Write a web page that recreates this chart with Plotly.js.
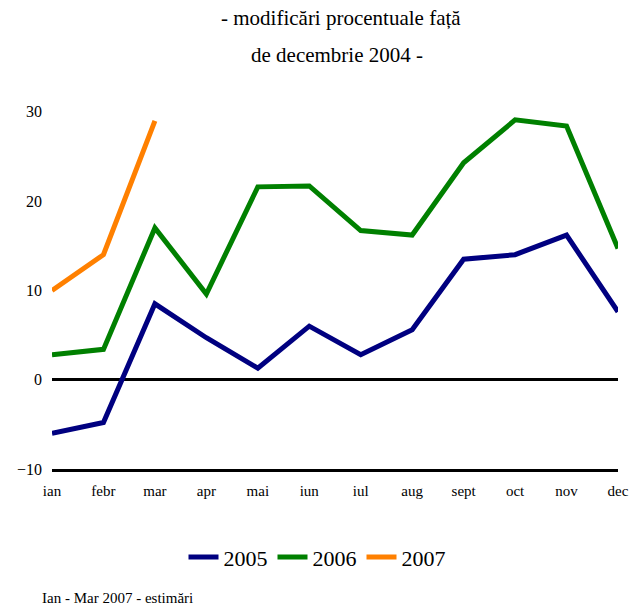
<!DOCTYPE html>
<html>
<head>
<meta charset="utf-8">
<script src="https://cdn.plot.ly/plotly-3.0.1.min.js"></script>
<style>html,body{margin:0;padding:0;background:#fff;}#chart{width:643px;height:607px;}</style>
</head>
<body>
<div id="chart"></div>
<script>
const months = ["ian","febr","mar","apr","mai","iun","iul","aug","sept","oct","nov","dec"];
const v2005 = [-6.0, -4.8, 8.5, 4.7, 1.3, 6.0, 2.8, 5.6, 13.5, 14.0, 16.2, 7.6];
const v2006 = [2.8, 3.4, 17.0, 9.6, 21.6, 21.7, 16.7, 16.2, 24.3, 29.1, 28.4, 14.7];
const v2007 = [10.0, 14.0, 29.0];
const seriesNames = ["2005", "2006", "2007"];
const yTicks = [-10, 0, 10, 20, 30];
const titleLine1 = "- modificări procentuale față";
const titleLine2 = "de decembrie 2004 -";
const footnote = "Ian - Mar 2007 - estimări";

const idx = months.map((m, i) => i);
const font = "Liberation Serif";
const mk = (name, ys, color) => ({
  type: "scatter", mode: "lines", name: name,
  x: idx.slice(0, ys.length), y: ys,
  line: {color: color, width: 5, shape: "linear"},
  hoverinfo: "skip"
});
const data = [
  mk(seriesNames[0], v2005, "#000080"),
  mk(seriesNames[1], v2006, "#008000"),
  mk(seriesNames[2], v2007, "#FF8000")
];
const layout = {
  width: 643, height: 607,
  margin: {l: 52, r: 25, t: 94, b: 138},
  paper_bgcolor: "#fff", plot_bgcolor: "#fff",
  font: {family: font, color: "#000", size: 15},
  showlegend: true,
  legend: {orientation: "h", x: 0.5 - 18/566, xanchor: "center", xref: "paper",
           y: -0.179, yanchor: "top", font: {size: 22, family: font, color: "#000"},
           itemwidth: 30, tracegroupgap: 0},
  xaxis: {
    range: [0, 11], tickmode: "array", tickvals: idx, ticktext: months,
    showgrid: false, zeroline: false, showline: true, linecolor: "#000", linewidth: 3,
    ticks: "", ticklabelstandoff: 6, tickfont: {size: 15, family: font}, fixedrange: true
  },
  yaxis: {
    range: [-10, 32], tickmode: "array", tickvals: yTicks,
    showgrid: false, zeroline: true, zerolinecolor: "#000", zerolinewidth: 3,
    showline: false, ticks: "", ticklabelstandoff: 9,
    tickfont: {size: 16, family: font}, fixedrange: true
  },
  annotations: [
    {text: titleLine1, xref: "paper", yref: "paper", x: (341-52)/566, y: 1, yshift: 94-18,
     xanchor: "center", yanchor: "middle", showarrow: false, font: {size: 21, family: font}},
    {text: titleLine2, xref: "paper", yref: "paper", x: (337-52)/566, y: 1, yshift: 94-55,
     xanchor: "center", yanchor: "middle", showarrow: false, font: {size: 21, family: font}},
    {text: footnote, xref: "paper", yref: "paper", x: (40-52)/566, y: 0, yshift: -(598-469),
     xanchor: "left", yanchor: "middle", showarrow: false, font: {size: 15, family: font}}
  ]
};
Plotly.newPlot("chart", data, layout, {displayModeBar: false, staticPlot: true});
</script>
</body>
</html>
